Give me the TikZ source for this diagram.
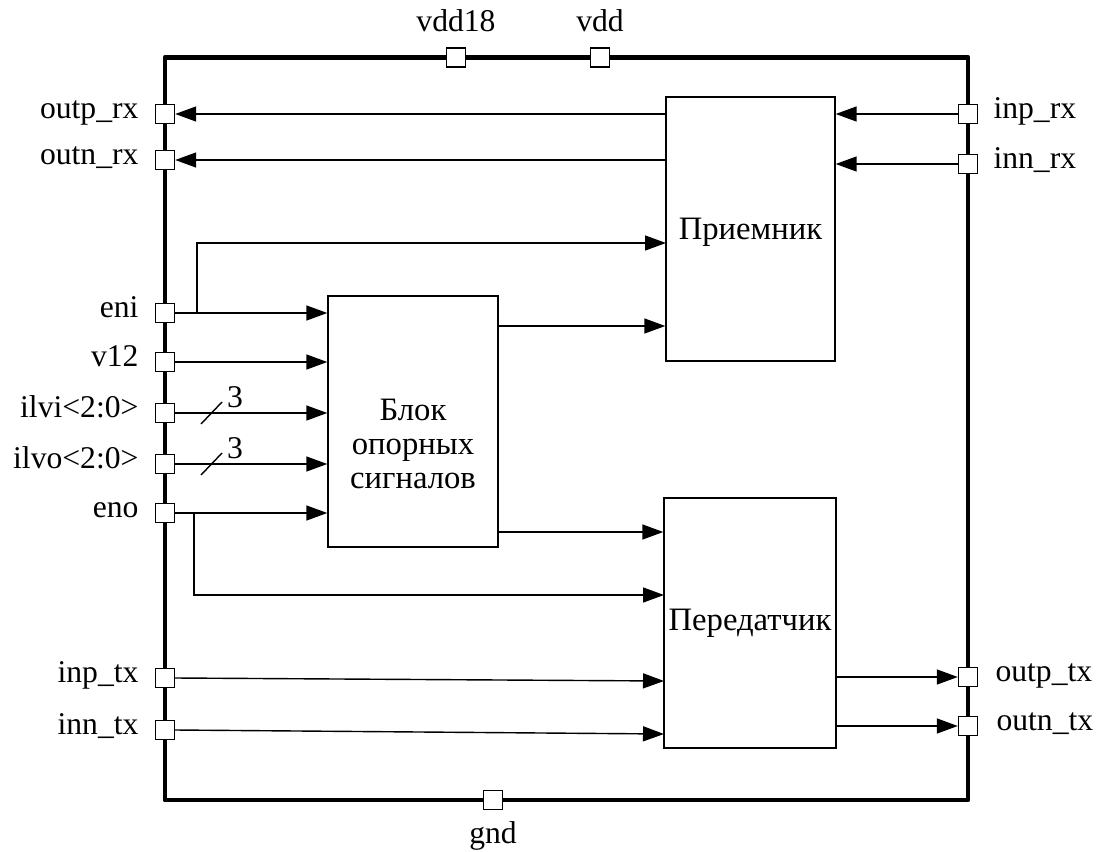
\documentclass[tikz,border=0pt]{standalone}
\usepackage{fontspec}
\setmainfont{Liberation Serif}
\usetikzlibrary{arrows.meta}

\tikzset{
    chip/.style={line width=2.8pt, line join=round},
    padbox/.style={draw, fill=white, line width=0.8pt, minimum size=0.38cm, inner sep=0pt},
    block/.style={draw, line width=0.8pt, inner sep=0pt},
    wire/.style={line width=0.8pt},
    sig/.style={wire, -{Triangle[length=0.42cm,width=0.3cm]}},
    pinlabel/.style={font=\fontsize{18}{21}\selectfont, inner sep=0pt},
    blocktext/.style={font=\fontsize{18.6}{19.4}\selectfont, align=center, inner sep=0pt},
}

\begin{document}
\begin{tikzpicture}[x=0.02cm,y=-0.02cm]

    \useasboundingbox (0,0) rectangle (1109,852);

    % Chip outline
    \draw[chip] (165,57.5) rectangle (968,800);

    % Blocks
    \node[block, minimum width=3.38cm, minimum height=5.28cm] (rx) at (750.5,229) {};
    \node[blocktext] (rxtext) at (750.5,232) {Приемник};
    \node[block, minimum width=3.4cm, minimum height=5.02cm] (ref) at (413,421.5) {};
    \node[blocktext] (reftext) at (413,444) {Блок\\опорных\\сигналов};
    \node[block, minimum width=3.44cm, minimum height=5.0cm] (tx) at (750,623) {};
    \node[blocktext] (txtext) at (750,623) {Передатчик};

    % Pads, left side
    \node[padbox] (outprx) at (165,114) {};
    \node[padbox] (outnrx) at (165,160) {};
    \node[padbox] (eni) at (165,313) {};
    \node[padbox] (v12) at (165,362) {};
    \node[padbox] (ilvi) at (165,413) {};
    \node[padbox] (ilvo) at (165,464) {};
    \node[padbox] (eno) at (165,513) {};
    \node[padbox] (inptx) at (165,678) {};
    \node[padbox] (inntx) at (165,730) {};

    % Pads, right side
    \node[padbox] (inprx) at (968,114) {};
    \node[padbox] (innrx) at (968,164) {};
    \node[padbox] (outptx) at (968,677) {};
    \node[padbox] (outntx) at (968,726) {};

    % Pads, top and bottom
    \node[padbox] (vddh) at (456,57.5) {};
    \node[padbox] (vdd) at (600,57.5) {};
    \node[padbox] (gnd) at (493,800) {};

    % Pad labels
    \node[pinlabel, anchor=mid east] (outprxlbl) at ([xshift=-0.32cm]outprx.west) {outp\_rx};
    \node[pinlabel, anchor=mid east] (outnrxlbl) at ([xshift=-0.32cm]outnrx.west) {outn\_rx};
    \node[pinlabel, anchor=mid east] (enilbl) at ([xshift=-0.32cm]eni.west) {eni};
    \node[pinlabel, anchor=mid east] (v12lbl) at ([xshift=-0.32cm]v12.west) {v12};
    \node[pinlabel, anchor=mid east] (ilvilbl) at ([xshift=-0.32cm]ilvi.west) {ilvi<2:0>};
    \node[pinlabel, anchor=mid east] (ilvolbl) at ([xshift=-0.32cm]ilvo.west) {ilvo<2:0>};
    \node[pinlabel, anchor=mid east] (enolbl) at ([xshift=-0.32cm]eno.west) {eno};
    \node[pinlabel, anchor=mid east] (inptxlbl) at ([xshift=-0.32cm]inptx.west) {inp\_tx};
    \node[pinlabel, anchor=mid east] (inntxlbl) at ([xshift=-0.32cm]inntx.west) {inn\_tx};
    \node[pinlabel, anchor=mid west] (inprxlbl) at ([xshift=0.3cm]inprx.east) {inp\_rx};
    \node[pinlabel, anchor=mid west] (innrxlbl) at ([xshift=0.3cm]innrx.east) {inn\_rx};
    \node[pinlabel, anchor=mid west] (outptxlbl) at ([xshift=0.34cm]outptx.east) {outp\_tx};
    \node[pinlabel, anchor=mid west] (outntxlbl) at ([xshift=0.36cm]outntx.east) {outn\_tx};
    \node[pinlabel, anchor=base] (vddhlbl) at ([yshift=0.31cm]vddh.north) {vdd18};
    \node[pinlabel, anchor=base] (vddlbl) at ([yshift=0.31cm]vdd.north) {vdd};
    \node[pinlabel, anchor=base] (gndlbl) at ([yshift=-0.66cm]gnd.south) {gnd};

    % Receiver connections
    \draw[sig] (rx.west |- outprx) -- (outprx.east);
    \draw[sig] (rx.west |- outnrx) -- (outnrx.east);
    \draw[sig] (inprx.west) -- (rx.east |- inprx);
    \draw[sig] (innrx.west) -- (rx.east |- innrx);

    % Reference block inputs
    \coordinate (enitap) at (197,313);
    \coordinate (rxen) at (666,243);
    \draw[sig] (eni.east) -- (ref.west |- eni);
    \draw[sig] (enitap) |- (rxen);
    \draw[sig] (v12.east) -- (ref.west |- v12);
    \draw[sig] (ilvi.east) -- (ref.west |- ilvi);
    \draw[sig] (ilvo.east) -- (ref.west |- ilvo);
    \draw[sig] (eno.east) -- (ref.west |- eno);

    % Bus widths
    \draw[wire] (201,424) -- (222,402);
    \node[pinlabel] (ilviw) at (235,397) {3};
    \draw[wire] (201,475) -- (222,453);
    \node[pinlabel] (ilvow) at (235,448) {3};

    % Reference block outputs
    \coordinate (refrx) at (498,326);
    \coordinate (reftx) at (498,532);
    \draw[sig] (refrx) -- (rx.west |- refrx);
    \draw[sig] (reftx) -- (tx.west |- reftx);

    % Transmitter connections
    \coordinate (enotap) at (194,513);
    \coordinate (txen) at (664,595);
    \coordinate (txinp) at (664,681);
    \coordinate (txinn) at (664,734);
    \draw[sig] (enotap) |- (txen);
    \draw[sig] (inptx.east) -- (txinp);
    \draw[sig] (inntx.east) -- (txinn);
    \draw[sig] (tx.east |- outptx) -- (outptx.west);
    \draw[sig] (tx.east |- outntx) -- (outntx.west);

\end{tikzpicture}
\end{document}
